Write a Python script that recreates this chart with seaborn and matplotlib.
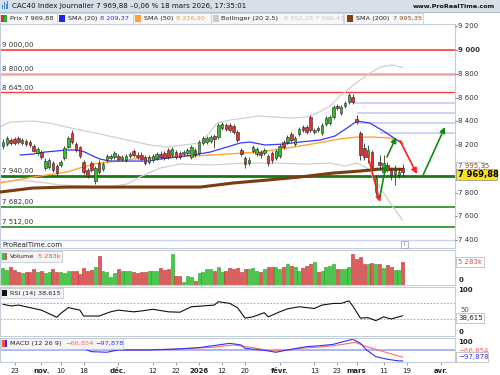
import numpy as np
import pandas as pd
import matplotlib
matplotlib.use("Agg")
import matplotlib.pyplot as plt
from matplotlib.patches import Rectangle
import seaborn as sns

sns.set_theme(style="white")
plt.rcParams['font.family'] = ['DejaVu Sans']

W, H = 500, 375

# ---------------- data ----------------
holidays = ['2025-12-25', '2025-12-26', '2026-01-01']
calendar = pd.bdate_range('2025-10-20', '2026-04-01').difference(pd.to_datetime(holidays))

opens = [8192, 8208, 8242, 8251, 8259, 8217, 8234, 8225, 8192, 8133,
         8141, 8006, 8015, 8048, 8023, 8032, 8090, 8183, 8301, 8208,
         8183, 8057, 7990, 8048, 7897, 8048, 7998, 8074, 8090, 8099,
         8107, 8082, 8074, 8107, 8149, 8116, 8116, 8099, 8057, 8074,
         8090, 8124, 8133, 8158, 8116, 8141, 8133, 8124, 8133, 8099,
         8158, 8133, 8217, 8225, 8234, 8276, 8267, 8343, 8368, 8368,
         8360, 8309, 8158, 8090, 8048, 8149, 8124, 8141, 8133, 8107,
         8133, 8090, 8107, 8225, 8225, 8293, 8208, 8293, 8352, 8352,
         8436, 8309, 8343, 8301, 8377, 8385, 8436, 8528, 8469, 8528,
         8562, 8604, 8419, 8301, 8175, 8099, 8141, 7804, 8057, 7973,
         8032, 7990, 7956, 7947, 8006]
highs = [8251, 8276, 8259, 8267, 8276, 8259, 8251, 8242, 8208, 8183,
         8158, 8090, 8090, 8065, 8040, 8074, 8192, 8276, 8326, 8225,
         8192, 8074, 8006, 8065, 8023, 8074, 8057, 8124, 8124, 8149,
         8124, 8116, 8124, 8141, 8166, 8141, 8141, 8116, 8116, 8124,
         8141, 8149, 8149, 8175, 8183, 8158, 8149, 8158, 8175, 8200,
         8175, 8242, 8276, 8276, 8284, 8293, 8385, 8394, 8385, 8385,
         8377, 8326, 8175, 8107, 8099, 8200, 8183, 8158, 8175, 8124,
         8149, 8166, 8208, 8242, 8284, 8309, 8276, 8352, 8368, 8368,
         8453, 8343, 8360, 8385, 8444, 8453, 8537, 8545, 8537, 8570,
         8638, 8629, 8453, 8318, 8217, 8200, 8158, 7947, 8116, 8116,
         8057, 8006, 8032, 8006, 8040]
lows = [8166, 8192, 8200, 8200, 8208, 8200, 8192, 8183, 8141, 8116,
        8082, 7990, 7998, 7973, 7939, 8015, 8074, 8175, 8208, 8141,
        8090, 7956, 7922, 7973, 7872, 7956, 7981, 8057, 8074, 8082,
        8065, 8065, 8057, 8090, 8099, 8082, 8065, 8032, 8040, 8057,
        8074, 8082, 8074, 8082, 8099, 8082, 8082, 8107, 8116, 8082,
        8099, 8116, 8200, 8208, 8217, 8175, 8251, 8326, 8318, 8309,
        8293, 8225, 8107, 8006, 8032, 8133, 8107, 8090, 8116, 8023,
        8048, 8074, 8090, 8166, 8208, 8225, 8192, 8276, 8309, 8293,
        8309, 8293, 8309, 8284, 8360, 8368, 8419, 8495, 8453, 8512,
        8545, 8545, 8377, 8074, 8074, 8048, 7990, 7779, 7990, 7956,
        7973, 7905, 7863, 7922, 7931]
closes = [8225, 8259, 8217, 8217, 8225, 8242, 8208, 8200, 8149, 8166,
          8099, 8065, 8074, 7990, 7964, 8057, 8175, 8259, 8225, 8158,
          8107, 7973, 7939, 7990, 8006, 7973, 8040, 8107, 8107, 8133,
          8082, 8099, 8107, 8124, 8116, 8099, 8082, 8048, 8099, 8107,
          8124, 8099, 8090, 8099, 8166, 8099, 8099, 8141, 8158, 8183,
          8116, 8225, 8259, 8259, 8267, 8251, 8368, 8377, 8335, 8326,
          8309, 8242, 8124, 8040, 8074, 8183, 8166, 8116, 8158, 8048,
          8074, 8149, 8192, 8183, 8267, 8242, 8259, 8335, 8326, 8309,
          8326, 8326, 8326, 8368, 8427, 8436, 8520, 8512, 8520, 8554,
          8621, 8562, 8394, 8116, 8099, 8158, 8015, 7922, 8032, 8048,
          7990, 7947, 7990, 7975, 7969.88]
volumes_k = [3780, 3400, 4010, 3400, 2870, 2650, 2870, 2870, 3550, 3020,
             3180, 2650, 2870, 3550, 2870, 2870, 2650, 3250, 3250, 3180,
             2500, 3780, 3180, 3400, 4010, 6650, 3250, 2870, 1740, 2650,
             3550, 3180, 3250, 3250, 2870, 2650, 2870, 2870, 3250, 3250,
             3250, 3780, 3400, 3630, 7030, 2120, 2120, 600, 2120, 1740,
             980, 2650, 3020, 3630, 3630, 3180, 4010, 2870, 3250, 3780,
             3630, 3780, 3020, 3630, 3630, 3780, 3250, 3020, 3630, 4010,
             4010, 4010, 3630, 4160, 4690, 4310, 4010, 3180, 3780, 4380,
             4760, 5140, 2870, 3250, 4010, 4380, 4760, 3630, 3630, 3630,
             4010, 7030, 5820, 6270, 4760, 4760, 4910, 4760, 4760, 3780,
             4540, 4160, 3400, 3400, 5283]

# indicator lines (bar index, value)
sma20_x = [4.4, 7.8, 10.9, 16.7, 19.3, 21.3, 23.4, 25.2, 27.8, 32.3, 37.5, 40.9, 45.3, 49.4,
           53.9, 58.3, 61.7, 64.3, 68.2, 72.9, 77.3, 82.5, 86.4, 89.5, 92.1, 95.5, 99.4, 103.3, 104]
sma20_y = [8116, 8124, 8141, 8158, 8158, 8141, 8107, 8082, 8065, 8065, 8065, 8082, 8099, 8116,
           8141, 8183, 8217, 8225, 8200, 8208, 8225, 8242, 8276, 8343, 8402, 8385, 8309, 8225, 8209.37]
sma50_x = [-0.8, 7.8, 16.7, 20.8, 25.2, 29.7, 33.8, 38.3, 42.7, 49.4, 58.3, 66.9, 72.1, 77.3,
           83.3, 87.7, 92.1, 96.3, 100.7, 104]
sma50_y = [7880, 7930, 7973, 8015, 8048, 8065, 8082, 8090, 8099, 8107, 8124, 8141, 8166, 8192,
           8225, 8251, 8267, 8267, 8259, 8226.90]
sma200_x = [-0.8, 7.8, 16.7, 33.8, 51.3, 59.8, 68.7, 77.3, 85.9, 92.9, 98.1, 104]
sma200_y = [7804, 7838, 7846, 7846, 7846, 7880, 7905, 7931, 7964, 7981, 7998, 7995.35]
boll_up_x = [-0.8, 1.8, 7.8, 12.2, 20, 25.2, 32.3, 38.3, 42.7, 46.8, 51.3, 53.9, 55.7, 59.1,
             63, 66.1, 70.3, 74.7, 79.1, 81.7, 85.1, 87.7, 90.3, 92.9, 95.5, 98.1, 101.5, 104]
boll_up_y = [8352, 8394, 8402, 8385, 8326, 8293, 8242, 8200, 8183, 8200, 8217, 8309, 8385, 8411,
             8427, 8444, 8436, 8427, 8436, 8469, 8528, 8613, 8680, 8747, 8806, 8857, 8874, 8852.28]
boll_lo_x = [-0.8, 4.4, 9.6, 14.8, 21.3, 25.2, 29.1, 32.3, 35.6, 40.9, 46.1, 53.9, 63, 70.3,
             79.1, 85.1, 89, 92.1, 94.7, 96.8, 99.4, 101.5, 104]
boll_lo_y = [7888, 7905, 7888, 7863, 7855, 7846, 7855, 7872, 7931, 8006, 8040, 8032, 8048, 8048,
             8040, 8048, 8023, 8048, 8006, 7905, 7779, 7677, 7566.47]
rsi_x = [0, 2, 4, 8, 10, 14, 15, 17, 20, 21, 25, 28, 30, 34, 36, 39, 43, 46, 49, 52, 55, 56,
         59, 61, 63, 65, 68, 69, 72, 74, 77, 81, 83, 86, 88, 90, 91, 93, 95, 97, 99, 101, 104]
rsi_y = [66, 62, 64, 56, 52, 35, 44, 58, 52, 38, 38, 48, 52, 48, 50, 54, 48, 47, 60, 62, 64, 72,
         68, 58, 33, 36, 46, 36, 48, 55, 60, 56, 64, 68, 68, 74, 62, 33, 34, 27, 36, 31, 38.615]
macd_x = [13.5, 21, 23, 27, 30, 38, 44, 51, 56, 59, 62, 63, 68.6, 71, 75, 79, 82.5, 86, 88.5,
          91, 93, 94.6, 97, 100, 103, 104]
macd_y = [8, 3, -20, -25, -6, -6, 0, 14, 36, 50, 36, 8, -12, -25, 0, 22, 30, 42, 64,
          84, 50, -6, -62, -84, -98, -97.878]
signal_x = [20, 25, 34, 43, 49.5, 54.7, 60, 65, 70, 74, 77, 82.5, 86, 89.5, 91.6, 94.6, 99, 104]
signal_y = [14, 0, -6, 0, 8, 17, 36, 14, -14, -8, 8, 19, 30, 47, 59, 22, -20, -66.854]

# horizontal levels and trend arrows drawn on the chart
level_values = [9000, 8800, 8645, 7940, 7682, 7512]
level_labels = ['9 000,00', '8 800,00', '8 645,00', '7 940,00', '7 682,00', '7 512,00']
fib_values = [8554, 8469, 8385, 8301]
fib_start = [91, 92, 92, 98]
arrow_x0 = [94.7, 98.1, 99.9, 103.3, 109.3]
arrow_y0 = [8141, 7771, 8099, 8234, 7947]
arrow_x1 = [98.1, 99.7, 102.3, 107.7, 115.0]
arrow_y1 = [7720, 8040, 8267, 7956, 8352]
arrow_up = [False, True, True, False, True]

tick_dates = ['2025-10-23', '2025-11-03', '2025-11-10', '2025-11-18', '2025-12-01', '2025-12-12',
              '2025-12-22', '2026-01-02', '2026-01-12', '2026-01-20', '2026-02-02', '2026-02-13',
              '2026-02-23', '2026-03-02', '2026-03-11', '2026-03-19', '2026-04-01']
tick_labels = ['23', 'nov.', '10', '18', 'déc.', '12', '22', '2026', '12', '20', 'févr.', '13',
               '23', 'mars', '11', '19', 'avr.']
tick_bold = [False, True, False, False, True, False, False, True, False, False, True, False,
             False, True, False, False, True]
price_ticks = [9200, 9000, 8800, 8600, 8400, 8200, 7800, 7600, 7400]

# ---------------- layout helpers ----------------
fig = plt.figure(figsize=(5, 3.75), dpi=100)
fig.patch.set_facecolor('white')


def fx(x):
    return x / W


def fy(y):
    return 1 - y / H


def axes_px(x0, y0, x1, y1):
    return fig.add_axes([fx(x0), fy(y1), (x1 - x0) / W, (y1 - y0) / H])


def box(x0, y0, x1, y1, fc='white', ec='#b9c2cf', lw=0.6, z=5):
    fig.patches.append(Rectangle((fx(x0), fy(y1)), (x1 - x0) / W, (y1 - y0) / H,
                                 transform=fig.transFigure, facecolor=fc, edgecolor=ec,
                                 lw=lw, zorder=z))


def txt(x, y, s, ha='left', z=6, **kw):
    fig.text(fx(x), fy(y), s, ha=ha, va='center', zorder=z, **kw)


XL = (-0.78, 117.6)
GRID = '#c5cedb'
GREEN = '#2fbf2f'
RED = '#e23030'
FS = 5.0
FL = 4.65

idx = np.arange(len(closes))
o = np.array(opens); c = np.array(closes); hi = np.array(highs); lo = np.array(lows)
up = c >= o


def style(ax):
    ax.set_xlim(*XL)
    ax.set_facecolor('white')
    for s in ax.spines.values():
        s.set_color(GRID)
        s.set_linewidth(0.8)
    ax.set_xticks([])
    ax.set_yticks([])
    ax.grid(False)


# ---------------- price panel ----------------
axp = axes_px(0, 24, 455, 248)
style(axp)
axp.set_ylim(7333, 9219)

lvl_colors = ['#ff2a2a', '#f4a3a3', '#ff3a3a', '#157a15', '#1e8c1e', '#1e8c1e']
lvl_widths = [1.1, 1.8, 1.0, 2.0, 1.2, 1.2]
for v, lab, col, lw in zip(level_values, level_labels, lvl_colors, lvl_widths):
    axp.axhline(v, color=col, lw=lw, zorder=2)
    axp.annotate(lab, xy=(0.005, v), xycoords=('axes fraction', 'data'), xytext=(0, 1.2),
                 textcoords='offset points', ha='left', va='bottom', fontsize=FS, color='#333333')
axp.axhline(7400, color='#c9d3f2', lw=1.0, zorder=1)
for v, s in zip(fib_values, fib_start):
    axp.plot([s, XL[1]], [v, v], color='#c7d1f4', lw=1.3, zorder=1, solid_capstyle='butt')

sns.lineplot(x=boll_up_x, y=boll_up_y, ax=axp, color='#cfcfcf', lw=0.9, zorder=2)
sns.lineplot(x=boll_lo_x, y=boll_lo_y, ax=axp, color='#cfcfcf', lw=0.9, zorder=2)
sns.lineplot(x=sma200_x, y=sma200_y, ax=axp, color='#7a3d12', lw=2.2, zorder=3)
sns.lineplot(x=sma50_x, y=sma50_y, ax=axp, color='#ffa43a', lw=1.0, zorder=3)
sns.lineplot(x=sma20_x, y=sma20_y, ax=axp, color='#3737ff', lw=0.9, zorder=3)

axp.vlines(idx, lo, hi, color='#333333', lw=0.6, zorder=4)
body_lo = np.minimum(o, c)
body_h = np.maximum(np.abs(c - o), 6)
axp.bar(idx, body_h, bottom=body_lo, width=0.66, color=np.where(up, GREEN, RED),
        edgecolor='#222222', linewidth=0.4, zorder=5)

for x0, y0, x1, y1, u in zip(arrow_x0, arrow_y0, arrow_x1, arrow_y1, arrow_up):
    col = '#138a13' if u else '#ff2020'
    axp.annotate('', xy=(x1, y1), xytext=(x0, y0),
                 arrowprops=dict(arrowstyle='-|>', color=col, lw=1.2, mutation_scale=8,
                                 shrinkA=0, shrinkB=0), zorder=6)

axp.set_ylabel('')
axp.set_xlabel('')

# ---------------- volume panel ----------------
axv = axes_px(0, 250, 455, 285)
style(axv)
axv.set_ylim(0, 7950)
axv.bar(idx, volumes_k, width=0.78, color=np.where(up, '#45cc45', '#e25a5a'),
        edgecolor=np.where(up, '#249a24', '#b52f2f'), linewidth=0.4)

# ---------------- RSI panel ----------------
axr = axes_px(0, 287, 455, 336)
style(axr)
axr.set_ylim(-9.5, 107)
for v in (70, 30):
    axr.axhline(v, color='#9a9a9a', lw=0.6, ls=(0, (2, 2)))
sns.lineplot(x=rsi_x, y=rsi_y, ax=axr, color='#111111', lw=0.8)
axr.set_ylabel(''); axr.set_xlabel('')

# ---------------- MACD panel ----------------
axm = axes_px(0, 337.5, 455, 362)
style(axm)
axm.set_ylim(-107, 99)
axm.axhline(-4, color='#aab6f2', lw=1.4)
sns.lineplot(x=signal_x, y=signal_y, ax=axm, color='#ff6b6b', lw=0.8)
sns.lineplot(x=macd_x, y=macd_y, ax=axm, color='#3030ff', lw=0.8)
axm.set_ylabel(''); axm.set_xlabel('')
tick_pos = [calendar.get_loc(pd.Timestamp(d)) for d in tick_dates]
axm.set_xticks(tick_pos)
axm.set_xticklabels(tick_labels, fontsize=FS, color='#222222')
for t, b in zip(axm.get_xticklabels(), tick_bold):
    if b:
        t.set_fontweight('bold')
axm.tick_params(axis='x', bottom=True, length=2, width=0.6, color='#888888', pad=2.5)

# ---------------- header ----------------
box(0, 0, 500, 12, fc='#d7e0e9', ec='none', z=1)
fig.lines.append(plt.Line2D([0, 1], [fy(12), fy(12)], transform=fig.transFigure,
                            color='#aab6c4', lw=0.6))
for k, hgt in enumerate([4, 7, 5, 8]):
    box(2 + k * 1.8, 9 - hgt, 3 + k * 1.8, 9, fc='#3a8ee0', ec='none', z=2)
txt(12, 6, 'CAC40 Index Journalier 7 969,88 \u20130,06 % 18 mars 2026, 17:35:01',
    fontsize=5.1, color='#111111')
txt(495, 6.5, 'www.ProRealTime.com', ha='right', fontsize=4.6, color='#111111',
    fontweight='bold')

# legend row
legend_boxes = [(0, 57), (57, 133), (133, 211), (211, 343), (344, 423)]
for a, b in legend_boxes:
    box(a, 12.5, b, 24, fc='#f7f7f7', ec='#c2c8d0', lw=0.5, z=2)
box(1, 15, 4, 22, fc='#e03030', ec='none', z=3)
box(4, 15, 7, 22, fc='#30b030', ec='none', z=3)
txt(10, 18.3, 'Prix 7 969,88', fontsize=FL, color='#222222')
box(59, 15, 65, 22, fc='#2020ff', ec='none', z=3)
txt(68, 18.3, 'SMA (20)', fontsize=FL, color='#222222')
txt(100, 18.3, '8 209,37', fontsize=FL, color='#2b2bff')
box(135, 15, 141, 22, fc='#ffa030', ec='none', z=3)
txt(144, 18.3, 'SMA (50)', fontsize=FL, color='#222222')
txt(176, 18.3, '8 226,90', fontsize=FL, color='#ff9a2a')
box(213, 15, 219, 22, fc='#cccccc', ec='none', z=3)
txt(221, 18.3, 'Bollinger (20 2,5)', fontsize=FL, color='#222222')
txt(284, 18.3, '8 852,28 7 566,47', fontsize=FL, color='#c8c8c8')
box(347, 15, 353, 22, fc='#8a3a10', ec='none', z=3)
txt(356, 18.3, 'SMA (200)', fontsize=FL, color='#222222')
txt(393, 18.3, '7 995,35', fontsize=FL, color='#8a4a1a')

# ---------------- right axis labels ----------------
for v in price_ticks:
    yp = 24 + (9219 - v) / (9219 - 7333) * 224
    fig.lines.append(plt.Line2D([fx(455), fx(457)], [fy(yp), fy(yp)],
                                transform=fig.transFigure, color='#777777', lw=0.6))
    txt(458, yp, f'{v:,}'.replace(',', ' '), fontsize=FS, color='#333333',
        fontweight='bold' if v == 9000 else 'normal')
box(456, 161.5, 484, 170.5, fc='white', ec='#b0b0b0', lw=0.5, z=7)
txt(458, 166, '7 995,35', fontsize=FS, color='#8a4a1a', z=8)
box(455.5, 169, 497, 180, fc='#ffe21a', ec='#888888', lw=0.5, z=9)
txt(458, 174.6, '7 969,88', fontsize=6.0, color='#000000', fontweight='bold', z=10)

# volume
box(456, 257, 484, 266.5, fc='white', ec='#b0b0b0', lw=0.5, z=7)
txt(458, 261.8, '5 283k', fontsize=FS, color='#e05050', z=8)
txt(459, 280, '0', fontsize=FS, color='#222222', fontweight='bold')
# RSI
txt(458, 290, '100', fontsize=FS, color='#222222', fontweight='bold')
txt(460, 310.5, '50', fontsize=FS, color='#555555')
txt(459, 332, '0', fontsize=FS, color='#222222', fontweight='bold')
box(456, 313, 484, 323, fc='white', ec='#b0b0b0', lw=0.5, z=7)
txt(458, 318, '38,615', fontsize=FS, color='#222222', z=8)
# MACD
txt(458, 341.5, '100', fontsize=FS, color='#222222', fontweight='bold')
txt(458, 351, '\u221266,854', fontsize=FS, color='#ff6060')
box(456, 352, 488, 362, fc='white', ec='#b0b0b0', lw=0.5, z=7)
txt(458, 357, '\u221297,878', fontsize=FS, color='#3030ff', z=8)

# ---------------- panel labels ----------------
txt(2, 245.5, 'ProRealTime.com', fontsize=FS, color='#222222')
box(401, 241, 408, 247.5, fc='white', ec='#999999', lw=0.5, z=7)
txt(404.5, 244.3, 'i', ha='center', fontsize=4, color='#666666', z=8)

box(0.5, 251, 62, 262, fc='#f4f4f4', ec='#b9c2cf', lw=0.5, z=7)
box(2, 253, 4.5, 260, fc='#3cc03c', ec='none', z=8)
box(4.5, 253, 7, 260, fc='#e05050', ec='none', z=8)
txt(10, 256.8, 'Volume', fontsize=FL, color='#222222', z=8)
txt(38, 256.8, '5 283k', fontsize=FL, color='#e05050', z=8)

box(0.5, 287.5, 63, 298, fc='#f4f4f4', ec='#b9c2cf', lw=0.5, z=7)
box(2, 290, 7, 296, fc='#111111', ec='none', z=8)
txt(9.5, 293, 'RSI (14) 38,615', fontsize=FL, color='#222222', z=8)

box(0.5, 338, 123, 348.5, fc='#f4f4f4', ec='#b9c2cf', lw=0.5, z=7)
box(2, 340, 4.5, 346.5, fc='#ff5050', ec='none', z=8)
box(4.5, 340, 7, 346.5, fc='#3030ff', ec='none', z=8)
txt(10, 343.3, 'MACD (12 26 9)', fontsize=FL, color='#222222', z=8)
txt(65, 343.3, '\u221266,854', fontsize=FL, color='#ff6060', z=8)
txt(95, 343.3, '\u221297,878', fontsize=FL, color='#3030ff', z=8)

fig.savefig('out.png', dpi=100, facecolor='white')
